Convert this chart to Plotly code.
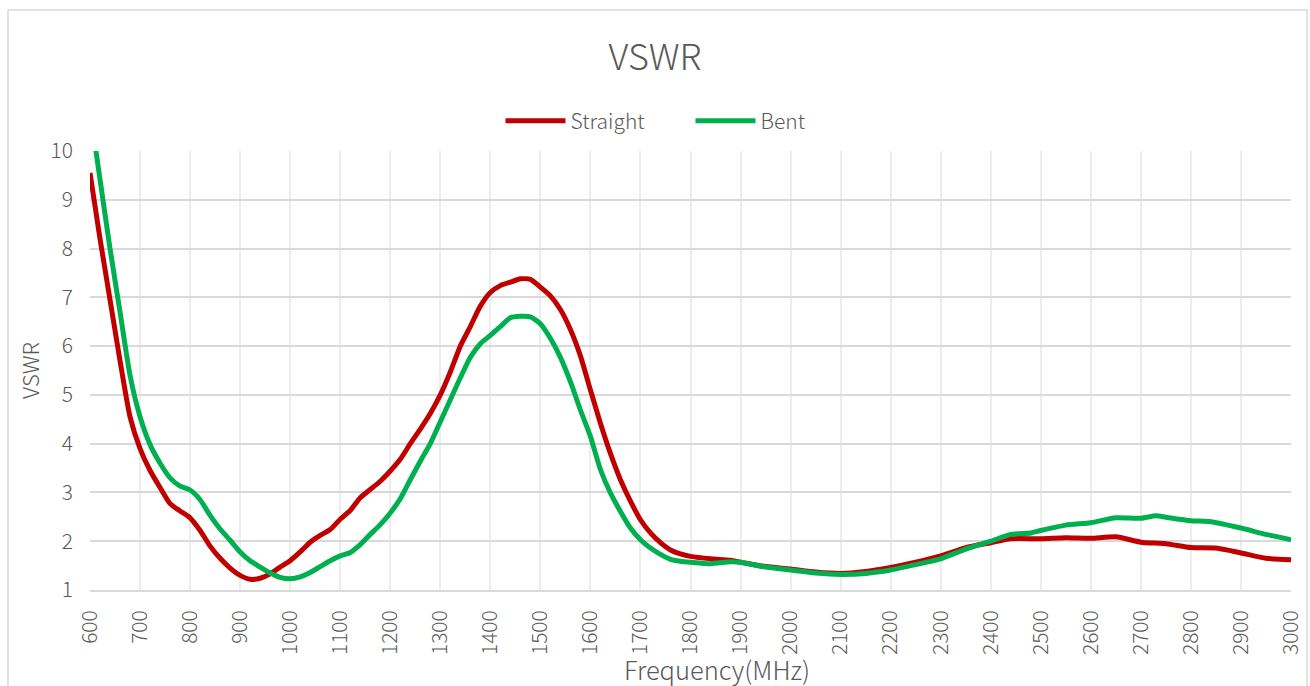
import plotly.graph_objects as go

freq_straight = [600, 620, 640, 660, 680, 700, 720, 740, 760, 780, 800, 820, 840, 860, 880, 900,
                 920, 940, 960, 980, 1000, 1020, 1040, 1060, 1080, 1100, 1120, 1140, 1160, 1180,
                 1200, 1220, 1240, 1260, 1280, 1300, 1320, 1340, 1360, 1380, 1400, 1420, 1440,
                 1460, 1480, 1500, 1520, 1540, 1560, 1580, 1600, 1620, 1640, 1660, 1680, 1700,
                 1720, 1740, 1760, 1780, 1800, 1840, 1880, 1900, 1950, 2000, 2050, 2100, 2150,
                 2200, 2250, 2300, 2350, 2400, 2440, 2500, 2550, 2600, 2650, 2700, 2750, 2800,
                 2850, 2900, 2950, 3000]
vswr_straight = [9.55, 8.2, 6.95, 5.7, 4.55, 3.9, 3.45, 3.1, 2.77, 2.62, 2.48, 2.22, 1.9, 1.65,
                 1.45, 1.3, 1.22, 1.24, 1.33, 1.47, 1.6, 1.78, 1.98, 2.12, 2.24, 2.45, 2.63, 2.89,
                 3.06, 3.23, 3.44, 3.68, 4.0, 4.3, 4.62, 5.0, 5.47, 6.0, 6.4, 6.82, 7.1, 7.24,
                 7.31, 7.38, 7.37, 7.21, 7.03, 6.75, 6.34, 5.8, 5.1, 4.42, 3.8, 3.26, 2.82, 2.44,
                 2.17, 1.97, 1.82, 1.74, 1.69, 1.64, 1.61, 1.57, 1.48, 1.43, 1.37, 1.34, 1.38,
                 1.46, 1.57, 1.7, 1.87, 1.97, 2.05, 2.05, 2.07, 2.06, 2.09, 1.98, 1.95, 1.87,
                 1.86, 1.76, 1.65, 1.62]

freq_bent = [600, 620, 640, 660, 680, 700, 720, 740, 760, 780, 800, 820, 840, 860, 880, 900,
             920, 940, 960, 980, 1000, 1020, 1040, 1060, 1080, 1100, 1120, 1140, 1160, 1180,
             1200, 1220, 1240, 1260, 1280, 1300, 1320, 1340, 1360, 1380, 1400, 1420, 1440,
             1460, 1480, 1500, 1520, 1540, 1560, 1580, 1600, 1620, 1640, 1660, 1680, 1700,
             1720, 1740, 1760, 1780, 1800, 1840, 1880, 1900, 1950, 2000, 2050, 2100, 2150,
             2200, 2250, 2300, 2350, 2400, 2440, 2480, 2500, 2550, 2600, 2650, 2700, 2730,
             2750, 2800, 2840, 2900, 2950, 3000]
vswr_bent = [10.85, 9.42, 8.0, 6.7, 5.4, 4.55, 3.98, 3.6, 3.3, 3.13, 3.05, 2.85, 2.53, 2.25,
             2.02, 1.78, 1.6, 1.47, 1.35, 1.26, 1.23, 1.27, 1.36, 1.48, 1.6, 1.7, 1.77, 1.93,
             2.14, 2.34, 2.58, 2.87, 3.26, 3.64, 4.0, 4.45, 4.9, 5.35, 5.77, 6.05, 6.22, 6.4,
             6.58, 6.61, 6.6, 6.46, 6.16, 5.77, 5.27, 4.69, 4.15, 3.47, 2.99, 2.61, 2.27, 2.03,
             1.86, 1.73, 1.63, 1.59, 1.57, 1.54, 1.58, 1.57, 1.47, 1.41, 1.35, 1.32, 1.34,
             1.41, 1.52, 1.64, 1.84, 2.0, 2.14, 2.17, 2.22, 2.33, 2.38, 2.48, 2.47, 2.52,
             2.49, 2.42, 2.4, 2.27, 2.14, 2.03]

x_ticks = list(range(600, 3001, 100))
y_ticks = list(range(1, 11))

FONT = "Noto Sans CJK SC, Microsoft YaHei, sans-serif"
TXT = "#595959"

fig = go.Figure()
fig.add_trace(go.Scatter(x=freq_straight, y=vswr_straight, mode="lines", name="Straight",
                         line=dict(color="#C00000", width=5, shape="spline", smoothing=0.6)))
fig.add_trace(go.Scatter(x=freq_bent, y=vswr_bent, mode="lines", name="Bent",
                         line=dict(color="#00B050", width=5, shape="spline", smoothing=0.6)))

fig.update_layout(
    width=1310, height=686,
    margin=dict(l=90, r=19, t=151, b=96, autoexpand=False),
    paper_bgcolor="white", plot_bgcolor="white",
    font=dict(family=FONT, color=TXT, size=20),
    title=dict(text="VSWR", x=0.5, xanchor="center", y=0.917, yanchor="middle",
               font=dict(size=36, color=TXT, family=FONT, weight=300)),
    legend=dict(orientation="h", x=0.5, xanchor="center", y=1.068, yanchor="middle",
                font=dict(size=21, color=TXT, weight=300), itemwidth=60, traceorder="normal",
                entrywidth=115, entrywidthmode="pixels"),
    showlegend=True,
)
fig.update_xaxes(
    range=[600, 3000], tickvals=x_ticks, ticktext=[str(v) for v in x_ticks],
    tickangle=-90, showgrid=True, gridcolor="#EDEDED", gridwidth=1.5,
    showline=True, linecolor="#D9D9D9", linewidth=1.5, ticks="",
    tickfont=dict(size=21, color=TXT, weight=300), zeroline=False, ticklabelstandoff=10,
)
fig.update_yaxes(
    range=[1, 10], tickvals=y_ticks, showgrid=True, gridcolor="#D9D9D9", gridwidth=1.5,
    showline=False, ticks="", zeroline=False, tickfont=dict(size=21, color=TXT, weight=300),
    ticklabelstandoff=16,
    title=dict(text="VSWR", font=dict(size=22, color=TXT, weight=300), standoff=4),
)
fig.add_annotation(text="Frequency(MHz)", xref="paper", yref="paper",
                   x=(717 - 90) / 1201, y=(590 - 668) / 439, xanchor="center", yanchor="middle",
                   showarrow=False, font=dict(size=25.5, color=TXT, family=FONT, weight=300))
fig.add_shape(type="rect", xref="paper", yref="paper",
              x0=(8 - 90) / 1201, x1=(1307 - 90) / 1201,
              y0=-0.4, y1=(590 - 10) / 439,
              line=dict(color="#D9D9D9", width=1.5), fillcolor="rgba(0,0,0,0)", layer="below")

fig.write_html("out.html", config={"displayModeBar": False},
               post_script="document.body.style.margin='0';document.body.style.overflow='hidden';")
